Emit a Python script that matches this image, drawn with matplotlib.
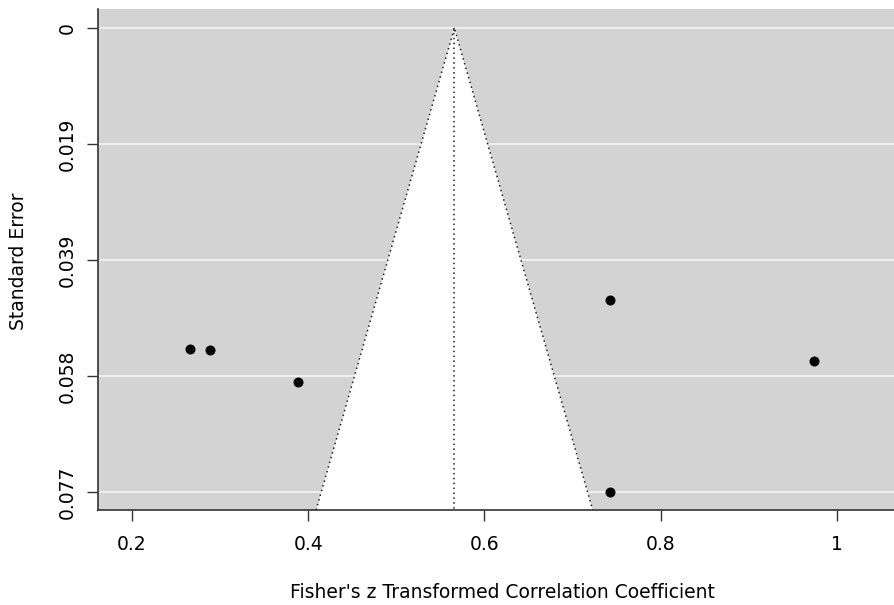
import numpy as np
import matplotlib
matplotlib.use("Agg")
import matplotlib.pyplot as plt

# Data: Fisher's z effect sizes and their standard errors
yi = [0.2659, 0.2886, 0.3886, 0.7420, 0.7420, 0.9739]
sei = [0.05335, 0.05352, 0.05884, 0.04521, 0.07712, 0.05535]
estimate = 0.5659
xticks = [0.2, 0.4, 0.6, 0.8, 1.0]
xticklabels = ["0.2", "0.4", "0.6", "0.8", "1"]
xlim = (0.1614, 1.066)
ylim_se = (-0.00316, 0.0801)

W, H = 895, 605
fig = plt.figure(figsize=(W / 100, H / 100), dpi=100)
ax = fig.add_axes([98 / W, (H - 510) / H, 1 - 98 / W, (510 - 9) / H])

ax.set_xlim(*xlim)
ax.set_ylim(ylim_se[1], ylim_se[0])

# grey background
ax.set_facecolor("#d3d3d3")

# y ticks: 5 equally spaced from 0 to max SE
maxse = max(sei)
yt = np.linspace(0, maxse, 5)
for v in yt:
    ax.axhline(v, color="#f4f4f4", lw=1.2, zorder=1)

# funnel
se_bottom = ylim_se[1]
fx = [estimate - 1.96 * se_bottom, estimate, estimate + 1.96 * se_bottom]
fy = [se_bottom, 0, se_bottom]
ax.fill(fx, fy, color="white", zorder=2, lw=0)
ax.plot(fx, fy, color="#222222", ls=(0, (1, 2.2)), lw=1.1, zorder=3)
ax.plot([estimate, estimate], [0, se_bottom], color="#222222", ls=(0, (1, 2.2)), lw=1.1, zorder=3)

ax.scatter(yi, sei, s=52, color="black", zorder=5, linewidths=0)

ax.set_xticks(xticks)
ax.set_xticklabels(xticklabels, fontsize=13.5)
ax.set_yticks(yt)
ax.set_yticklabels(["0" if v == 0 else f"{v:.3f}" for v in np.round(yt, 3)],
                   fontsize=13.5, rotation=90, va="center")
ax.tick_params(axis="both", direction="out", length=8, width=1, color="#333333")
ax.tick_params(axis="x", pad=10)
ax.tick_params(axis="y", pad=7.5)

for s in ["top", "right"]:
    ax.spines[s].set_visible(False)
for s in ["left", "bottom"]:
    ax.spines[s].set_color("#333333")
    ax.spines[s].set_linewidth(1.2)

fig.text(19 / W, 1 - 261 / H, "Standard Error", rotation=90, fontsize=13.5, ha="center", va="center")
fig.text(502 / W, 1 - 592 / H, "Fisher's z Transformed Correlation Coefficient", fontsize=13.5, ha="center", va="center")

fig.savefig("out.png", dpi=100)
